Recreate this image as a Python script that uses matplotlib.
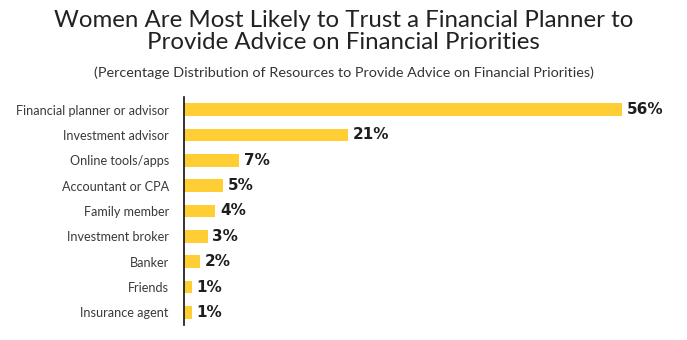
import matplotlib as mpl
from matplotlib import pyplot as plt

mpl.use('Agg')

categories = ['Financial planner or advisor', 'Investment advisor',
              'Online tools/apps', 'Accountant or CPA', 'Family member',
              'Investment broker', 'Banker', 'Friends', 'Insurance agent']
values = [56, 21, 7, 5, 4, 3, 2, 1, 1]
value_labels = ['56%', '21%', '7%', '5%', '4%', '3%', '2%', '1%', '1%']

title = ('Women Are Most Likely to Trust a Financial Planner to\n'
         'Provide Advice on Financial Priorities')
subtitle = ('(Percentage Distribution of Resources to Provide Advice '
            'on Financial Priorities)')

fig = plt.figure(figsize=(6.87, 3.40), dpi=100)
fig.patch.set_facecolor('white')

ax = fig.add_axes([0.268, 0.044, 0.722, 0.671])
pos = list(range(len(categories)))
ax.barh(pos, values, height=0.5, color='#FFCE35', edgecolor='none')

ax.set_xlim(0, 63.4)
ax.set_ylim(len(categories) - 0.5, -0.5)
ax.set_yticks(pos)
ax.set_yticklabels(categories, fontsize=9.1, color='#3a3a3a',
                   family='Lato')
ax.tick_params(axis='y', length=0, pad=11)
ax.set_xticks([])

for side in ['top', 'right', 'bottom']:
    ax.spines[side].set_visible(False)
ax.spines['left'].set_color('#111111')
ax.spines['left'].set_linewidth(1.2)

# percentage labels just past the end of each bar
for y, v, lab in zip(pos, values, value_labels):
    ax.text(v + 0.6, y, lab, va='center', ha='left', fontsize=11,
            fontweight='bold', color='#1e1e1e', family='DejaVu Sans')

fig.text(0.5, 0.907, title, ha='center', va='center', fontsize=17.3,
         color='#222222', family='Lato', linespacing=1.05)
fig.text(0.5, 0.785, subtitle, ha='center', va='center', fontsize=10.4,
         color='#333333', family='Lato')

plt.savefig('out.png', dpi=100)
